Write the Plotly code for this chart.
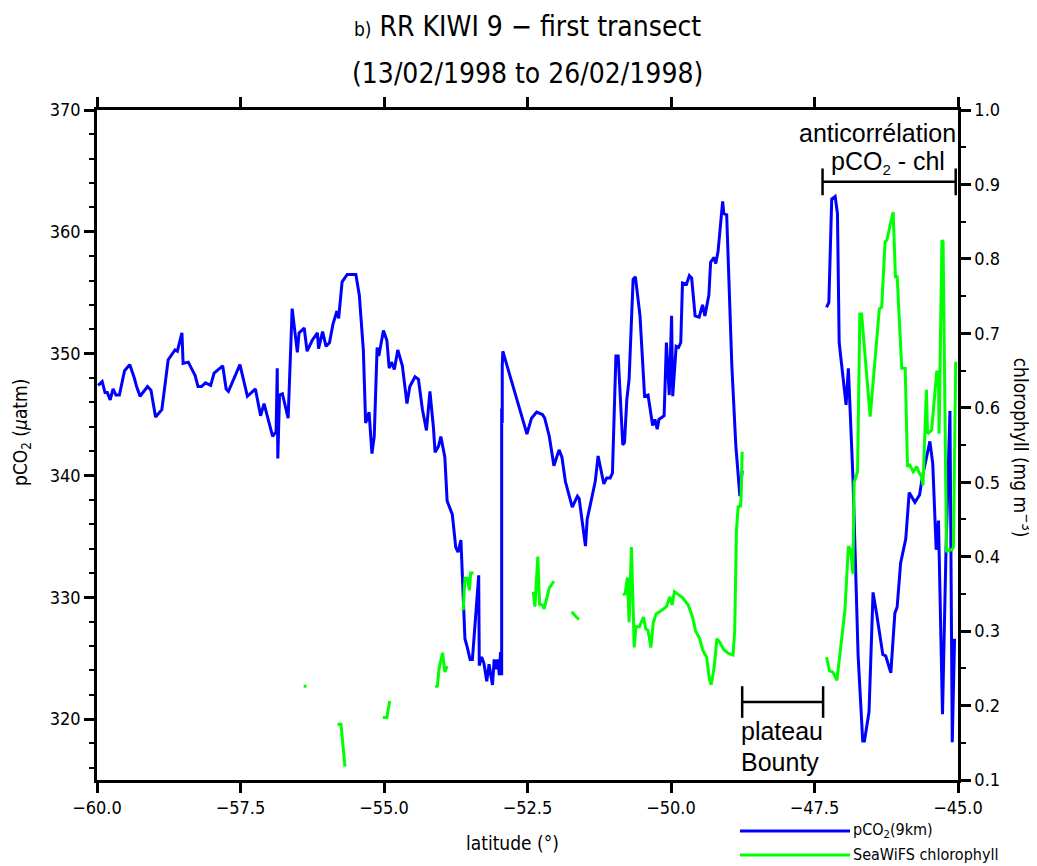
"""RR KIWI 9 first transect: pCO2 vs SeaWiFS chlorophyll along latitude."""

import plotly.graph_objects as go

# ── data ─────────────────────────────────────────────────────────────

# pCO2 (µatm), first leg
PCO2_LAT_1 = [
    -59.98, -59.91, -59.86, -59.82, -59.77, -59.72, -59.67, -59.61, -59.52, -59.43,
    -59.35, -59.31, -59.25, -59.12, -59.06, -58.98, -58.87, -58.76, -58.64, -58.60,
    -58.52, -58.50, -58.41, -58.29, -58.24, -58.18, -58.11, -58.02, -57.96, -57.81,
    -57.75, -57.71, -57.51, -57.38, -57.24, -57.15, -57.09, -56.94, -56.88, -56.86,
    -56.85, -56.82, -56.77, -56.67, -56.60, -56.51, -56.48, -56.39, -56.34, -56.25,
    -56.16, -56.14, -56.07, -56.01, -55.95, -55.89, -55.82, -55.79, -55.73, -55.64,
    -55.49, -55.43, -55.36, -55.32, -55.26, -55.21, -55.17, -55.12, -55.09, -55.01,
    -54.95, -54.91, -54.87, -54.82, -54.76, -54.68, -54.60, -54.55, -54.46, -54.40,
    -54.33, -54.26, -54.20, -54.14, -54.11, -54.05, -54.01, -53.94, -53.90, -53.81,
    -53.75, -53.71, -53.66, -53.59, -53.55, -53.50, -53.46, -53.35, -53.34, -53.30,
    -53.26, -53.21, -53.17, -53.11, -53.08, -53.05, -53.02, -52.99, -52.97, -52.95,
    -52.95, -52.94, -52.94, -52.93, -52.51, -52.43, -52.34, -52.24, -52.20, -52.12,
    -52.04, -51.95, -51.90, -51.84, -51.72, -51.63, -51.60, -51.49, -51.46, -51.32,
    -51.27, -51.17, -51.12, -51.06, -51.02, -50.96, -50.92, -50.84, -50.81, -50.77,
    -50.73, -50.66, -50.62, -50.54, -50.46, -50.40, -50.32, -50.28, -50.24, -50.21,
    -50.12, -50.08, -50.03, -49.99, -49.97, -49.91, -49.87, -49.83, -49.80, -49.73,
    -49.68, -49.64, -49.58, -49.51, -49.45, -49.41, -49.34, -49.31, -49.25, -49.22,
    -49.18, -49.10, -49.08, -49.03, -48.94, -48.87, -48.80, -48.76,
]
PCO2_1 = [
    347.4, 347.7, 346.8, 346.8, 346.2, 347.1, 346.6, 346.6, 348.6, 349.1,
    348.0, 347.3, 346.5, 347.3, 347.0, 344.8, 345.4, 349.5, 350.3, 350.2,
    351.7, 349.2, 349.3, 348.2, 347.3, 347.3, 347.6, 347.4, 348.4, 349.0,
    347.1, 346.9, 349.1, 346.5, 347.1, 344.9, 345.9, 343.2, 343.6, 348.8,
    341.4, 346.6, 346.7, 344.7, 353.7, 350.1, 351.7, 352.1, 350.2, 351.1,
    351.7, 350.4, 351.8, 350.6, 350.9, 352.4, 353.5, 352.9, 355.9, 356.5,
    356.5, 354.8, 350.3, 344.3, 345.2, 341.8, 343.2, 350.5, 349.8, 351.9,
    351.1, 348.8, 349.3, 348.7, 350.3, 349.0, 345.9, 347.3, 348.1, 347.9,
    345.4, 343.7, 346.9, 344.0, 341.9, 342.4, 343.2, 341.5, 337.9, 336.8,
    334.1, 333.7, 334.7, 326.6, 325.9, 324.9, 324.9, 331.8, 324.4, 325.1,
    324.6, 323.1, 324.5, 322.8, 324.9, 324.1, 324.9, 323.6, 325.5, 323.6,
    345.5, 344.3, 349.0, 350.2, 343.4, 344.7, 345.2, 345.0, 344.7, 343.2,
    340.8, 342.1, 341.5, 339.5, 337.4, 338.3, 338.1, 334.2, 336.4, 339.5,
    341.6, 339.3, 339.8, 339.8, 340.2, 349.8, 349.8, 342.5, 342.7, 346.2,
    347.9, 356.1, 356.3, 353.1, 346.5, 346.6, 344.1, 344.6, 343.8, 344.6,
    344.9, 350.9, 346.6, 353.1, 346.5, 350.6, 350.5, 350.9, 355.8, 355.7,
    356.4, 356.2, 353.1, 353.0, 354.0, 353.1, 354.8, 357.5, 357.9, 357.4,
    358.4, 362.5, 361.5, 361.4, 349.0, 342.4, 338.3, 340.4,
]

# pCO2 (µatm), second leg
PCO2_LAT_2 = [
    -47.29, -47.25, -47.20, -47.14, -47.10, -47.07, -46.95, -46.91, -46.83, -46.74,
    -46.66, -46.63, -46.55, -46.48, -46.42, -46.31, -46.26, -46.17, -46.10, -46.06,
    -46.00, -45.91, -45.85, -45.75, -45.67, -45.62, -45.49, -45.44, -45.38, -45.34,
    -45.27, -45.21, -45.14, -45.10, -45.06,
]
PCO2_2 = [
    353.8, 354.2, 362.7, 362.9, 361.5, 350.9, 345.8, 348.8, 339.8, 325.2,
    318.2, 318.2, 320.6, 330.4, 328.7, 325.3, 325.2, 323.8, 328.7, 329.2,
    332.8, 334.8, 338.6, 337.8, 338.4, 339.9, 342.8, 341.0, 333.9, 336.3,
    320.4, 333.7, 345.3, 318.1, 326.6,
]

# SeaWiFS chlorophyll (mg m-3); None marks cloud gaps
CHL_LAT = [
    -56.40, -56.35, None,
    -55.81, -55.75, -55.68, None,
    -55.02, -54.95, -54.90, None,
    -54.11, -54.07, -54.04, -53.98, -53.94, -53.90, None,
    -53.62, -53.59, -53.55, -53.51, -53.49, -53.44, None,
    -52.40, -52.37, -52.32, -52.29, -52.24, -52.21, -52.12, -52.04, None,
    -51.73, -51.64, -51.60, None,
    -50.84, -50.80, -50.76, -50.73, -50.69, -50.64, -50.61, -50.55, -50.48, -50.44,
    -50.40, -50.35, -50.31, -50.26, -50.16, -50.08, -50.02, -49.98, -49.94, -49.87,
    -49.80, -49.70, -49.63, -49.57, -49.50, -49.45, -49.38, -49.33, -49.30, -49.25,
    -49.20, -49.15, -49.08, -49.00, -48.92, -48.89, -48.86, -48.83, -48.79, -48.78,
    -48.77, -48.76, None,
    -47.29, -47.24, -47.18, -47.11, -47.06, -46.97, -46.91, -46.87, -46.83, -46.81,
    -46.75, -46.71, -46.68, -46.53, -46.37, -46.33, -46.27, -46.24, -46.13, -46.09,
    -46.06, -45.98, -45.92, -45.88, -45.84, -45.78, -45.72, -45.68, -45.63, -45.61,
    -45.55, -45.53, -45.46, -45.42, -45.37, -45.34, -45.33, -45.28, -45.26, -45.20,
    -45.17, -45.11, -45.08, -45.04,
]
CHL = [
    0.226, 0.226, None,
    0.175, 0.175, 0.118, None,
    0.184, 0.184, 0.206, None,
    0.225, 0.226, 0.250, 0.271, 0.245, 0.253, None,
    0.328, 0.371, 0.371, 0.355, 0.378, 0.378, None,
    0.353, 0.333, 0.400, 0.336, 0.335, 0.330, 0.358, 0.367, None,
    0.326, 0.318, 0.316, None,
    0.349, 0.350, 0.372, 0.312, 0.413, 0.278, 0.306, 0.306, 0.319, 0.303,
    0.301, 0.278, 0.311, 0.323, 0.328, 0.333, 0.346, 0.335, 0.353, 0.349,
    0.345, 0.335, 0.320, 0.300, 0.290, 0.275, 0.265, 0.235, 0.228, 0.250,
    0.290, 0.285, 0.275, 0.270, 0.268, 0.300, 0.435, 0.467, 0.468, 0.478,
    0.514, 0.541, None,
    0.265, 0.247, 0.245, 0.234, 0.267, 0.328, 0.414, 0.409, 0.377, 0.500,
    0.514, 0.726, 0.726, 0.588, 0.733, 0.735, 0.823, 0.825, 0.863, 0.776,
    0.776, 0.653, 0.653, 0.521, 0.523, 0.514, 0.521, 0.513, 0.507, 0.496,
    0.624, 0.565, 0.570, 0.606, 0.648, 0.648, 0.565, 0.825, 0.823, 0.406,
    0.409, 0.409, 0.413, 0.662,
]

X_TICKS = [-60.0, -57.5, -55.0, -52.5, -50.0, -47.5, -45.0]

# ── style ────────────────────────────────────────────────────────────

HERSHEY = "Liberation Sans Narrow, DejaVu Sans Condensed, DejaVu Sans, sans-serif"
ARIAL = "Liberation Sans, Arial, sans-serif"
AXIS = dict(
    showline=True,
    linecolor="black",
    linewidth=2.5,
    ticks="outside",
    ticklen=10,
    tickwidth=2.5,
    tickcolor="black",
    showgrid=False,
    zeroline=False,
    tickfont=dict(family=HERSHEY, size=18, color="black"),
)


def paper_text(text, x, y, size, angle=0, anchor="center", family=HERSHEY):
    """Text placed in paper coordinates, centred vertically."""
    return dict(
        text=text, x=x, y=y, xref="paper", yref="paper", xanchor=anchor,
        yanchor="middle", textangle=angle, showarrow=False,
        font=dict(family=family, size=size, color="black"),
    )


# ── chart ────────────────────────────────────────────────────────────

fig = go.Figure()
fig.add_trace(
    go.Scatter(
        x=PCO2_LAT_1 + [None] + PCO2_LAT_2,
        y=PCO2_1 + [None] + PCO2_2,
        mode="lines",
        line={"color": "#0000ff", "width": 3},
        connectgaps=False,
        showlegend=False,
    )
)
fig.add_trace(
    go.Scatter(
        x=CHL_LAT,
        y=CHL,
        yaxis="y2",
        mode="lines",
        line={"color": "#00ff00", "width": 3},
        connectgaps=False,
        showlegend=False,
    )
)

# brackets marking the two regions
bracket = dict(type="line", xref="x", yref="y", line=dict(color="black", width=2.5))
for x0, x1, yc, h in [(-47.36, -45.04, 364.1, 1.1), (-48.76, -47.35, 321.4, 1.3)]:
    fig.add_shape(x0=x0, x1=x1, y0=yc, y1=yc, **bracket)
    fig.add_shape(x0=x0, x1=x0, y0=yc - h, y1=yc + h, **bracket)
    fig.add_shape(x0=x1, x1=x1, y0=yc - h, y1=yc + h, **bracket)

label_font = dict(family=ARIAL, size=25, color="black")
for text, x, y, anchor in [
    ("anticorrélation", -46.40, 368.1, "center"),
    ("pCO<sub><span style='font-size:15px'>2</span></sub> - chl", -46.22, 365.7, "center"),
    ("plateau", -48.81, 319.0, "left"),
    ("Bounty", -48.81, 316.5, "left"),
]:
    fig.add_annotation(
        text=text, x=x, y=y, xref="x", yref="y", xanchor=anchor, yanchor="middle",
        showarrow=False, font=label_font,
    )

# titles
fig.add_annotation(
    **paper_text("<span style='font-size:19px'>b)</span> RR KIWI 9 − first transect", 0.5, 1.1239, 28)
)
fig.add_annotation(**paper_text("(13/02/1998 to 26/02/1998)", 0.5, 1.0552, 28))
fig.add_annotation(**paper_text("latitude (°)", 0.4826, -0.094, 19))
fig.add_annotation(**paper_text("pCO<sub>2</sub> (<i>µ</i>atm)", -0.0871, 0.518, 19, angle=-90))
fig.add_annotation(**paper_text("chlorophyll (mg m<sup>−3</sup>)", 1.0743, 0.496, 19, angle=90))

# legend drawn below the axis, as in the original
for text, color, y in [
    ("pCO<sub>2</sub>(9km)", "#0000ff", -0.0761),
    ("SeaWiFS chlorophyll", "#00ff00", -0.1119),
]:
    fig.add_shape(
        type="line", xref="paper", yref="paper", x0=0.7468, x1=0.8746, y0=y, y1=y,
        line=dict(color=color, width=3),
    )
    fig.add_annotation(**paper_text(text, 0.8757, y, 16, anchor="left"))

# the page adds an 8px body margin, so the figure is 8px smaller than the window
fig.update_layout(
    width=1029,
    height=858,
    margin=dict(l=89, r=79, t=102, b=86),
    paper_bgcolor="white",
    plot_bgcolor="white",
    showlegend=False,
    xaxis=dict(
        range=[-60, -45],
        tickvals=X_TICKS,
        tickformat=".1f",
        mirror="ticks",
        **AXIS,
    ),
    yaxis=dict(
        range=[315, 370],
        tick0=320,
        dtick=10,
        minor=dict(dtick=2, ticks="outside", ticklen=5, tickwidth=2, tickcolor="black"),
        **AXIS,
    ),
    yaxis2=dict(
        range=[0.1, 1.0],
        overlaying="y",
        side="right",
        tick0=0.1,
        dtick=0.1,
        tickformat=".1f",
        minor=dict(dtick=0.05, ticks="outside", ticklen=5, tickwidth=2, tickcolor="black"),
        **AXIS,
    ),
)

fig.write_html("out.html")
